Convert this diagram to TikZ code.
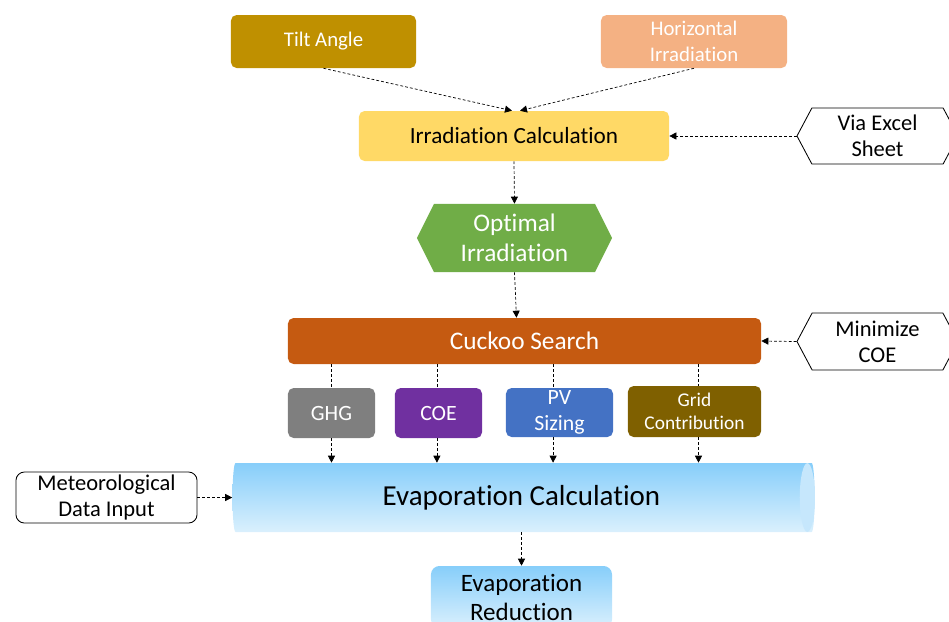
\documentclass[tikz,border=0pt]{standalone}
\usepackage{fontspec}
\setmainfont{Carlito}[Ligatures=NoCommon]
\usetikzlibrary{arrows.meta, shapes.geometric, shapes.symbols, calc}
\definecolor{tiltgold}{HTML}{BF9000}
\definecolor{horizpeach}{HTML}{F4B183}
\definecolor{calcyellow}{HTML}{FFD966}
\definecolor{optgreen}{HTML}{70AD47}
\definecolor{cuckooorange}{HTML}{C55A11}
\definecolor{ghggray}{HTML}{7F7F7F}
\definecolor{coepurple}{HTML}{7030A0}
\definecolor{pvblue}{HTML}{4472C4}
\definecolor{gridbrown}{HTML}{7F6000}
\definecolor{evaptop}{HTML}{87CEFA}
\definecolor{evapbot}{HTML}{DAF0FD}
\definecolor{evapcap}{HTML}{C6E7FC}
\newcommand{\setfs}[2]{\fontsize{#1}{#2}\selectfont}

\begin{document}
\begin{tikzpicture}[
  x=0.025cm, y=-0.025cm,
  >={Triangle[length=5pt,width=5pt]},
  link/.style={dash pattern=on 2pt off 1.5pt, line width=0.5pt},
  flow/.style={link, ->},
  box/.style={fill=#1, rounded corners=4pt, text=white, align=center, inner sep=1pt},
  hexbox/.style={signal, signal to=west and east, draw=black, line width=0.6pt,
                 fill=white, align=center, inner sep=1pt, signal pointer angle=124,
                 minimum width=4.025cm, minimum height=1.4cm, font=\setfs{16}{18.5}},
  skybox/.style={top color=evaptop, bottom color=evapbot, align=center, inner sep=1pt},
]
  \useasboundingbox (0,0) rectangle (949,621);

  % --- inputs and irradiation -------------------------------------
  \node[box=tiltgold, minimum width=4.625cm, minimum height=1.325cm, font=\setfs{14.8}{18.5}]
    (tilt) at (323.5,41.5) {Tilt Angle};
  \node[box=horizpeach, minimum width=4.65cm, minimum height=1.325cm, font=\setfs{14.8}{18.5}]
    (horiz) at (694,41.5) {Horizontal\\Irradiation};
  \node[box=calcyellow, text=black, minimum width=7.75cm, minimum height=1.25cm, font=\setfs{16.5}{20}]
    (irrcalc) at (514,136) {Irradiation Calculation};
  \node[hexbox] (excel) at (877.5,136) {Via Excel\\Sheet};
  \node[signal, signal to=west and east, signal pointer angle=127, fill=optgreen, text=white,
        align=center, inner sep=1pt, minimum width=4.875cm, minimum height=1.7cm, font=\setfs{18}{21}]
    (optirr) at (514.5,238) {Optimal\\Irradiation};

  \draw[flow] (tilt.south) -- ([xshift=-0.05cm]irrcalc.north);
  \draw[flow] (horiz.south) -- ([xshift=0.15cm]irrcalc.north);
  \draw[flow] (excel.west) -- (irrcalc.east);
  \draw[flow] (irrcalc.south) -- (optirr.north);

  % --- optimisation -----------------------------------------------
  \node[box=cuckooorange, minimum width=11.825cm, minimum height=1.15cm, font=\setfs{18}{21}]
    (cuckoo) at (524.5,341) {Cuckoo Search};
  \node[hexbox, minimum height=1.425cm] (mincoe) at (877.5,341.5) {Minimize\\COE};

  \draw[flow] (optirr.south) -- ([xshift=0.05cm]cuckoo.north -| optirr.south);
  \draw[flow] (mincoe.west) -- (cuckoo.east);

  \node[box=ghggray, minimum width=2.175cm, minimum height=1.25cm, font=\setfs{15.5}{18.5}]
    (ghg) at (331.5,413) {GHG};
  \node[box=coepurple, minimum width=2.175cm, minimum height=1.25cm, font=\setfs{15.5}{18.5}]
    (coe) at (438.5,413) {COE};
  \node[box=pvblue, minimum width=2.675cm, minimum height=1.225cm, font=\setfs{15.5}{18.5}]
    (pv) at (559.5,412.5) {PV\\Sizing};
  \node[box=gridbrown, minimum width=3.325cm, minimum height=1.275cm, font=\setfs{13.8}{16.4}]
    (grid) at (694.5,411.5) {Grid\\Contribution};

  % --- evaporation ------------------------------------------------
  \node[cylinder, shape border rotate=0, shape aspect=0.22, skybox,
        minimum height=14.55cm, minimum width=1.725cm, font=\setfs{20.6}{24}]
    (evap) at (521.5,497.5) {Evaporation Calculation};
  \fill[evapcap] ($(evap.east)+(-0.19cm,0)$) ellipse (0.19cm and 0.86cm);
  \node[draw=black, fill=white, rounded corners=6pt, line width=0.6pt, align=center,
        inner sep=1pt, minimum width=4.525cm, minimum height=1.275cm, font=\setfs{16}{19}]
    (meteo) at (106.5,497.5) {Meteorological\\Data Input};
  \node[skybox, rounded corners=6pt, minimum width=4.525cm, minimum height=1.55cm,
        font=\setfs{17.8}{20.6}]
    (evapred) at (521.5,597) {Evaporation\\Reduction};

  \foreach \src/\dx in {ghg/0, coe/-0.04, pv/-0.16, grid/0.1} {
    \draw[link] ([xshift=\dx cm]cuckoo.south -| \src.north) -- ([xshift=\dx cm]\src.north);
    \draw[flow] ([xshift=\dx cm]\src.south) -- ([xshift=\dx cm]evap.north -| \src.south);
  }
  \draw[flow] (meteo.east) -- (evap.west);
  \draw[flow] (evap.south -| evapred.north) -- (evapred.north);
\end{tikzpicture}
\end{document}
